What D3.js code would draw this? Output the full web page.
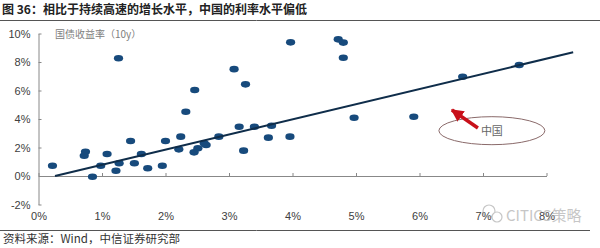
<!DOCTYPE html>
<html>
<head>
<meta charset="utf-8">
<script src="https://cdn.jsdelivr.net/npm/d3@7"></script>
<style>
  body { margin: 0; background: #fff; }
  svg { display: block; font-family: "Liberation Sans", Arial, "Noto Sans CJK SC", sans-serif; }
</style>
</head>
<body>
<svg id="chart" width="600" height="248"></svg>
<script>
// GDP growth (x, %) vs 10y gov bond yield (y, %)
var growth = [0.22, 0.85, 0.72, 0.74, 0.98, 1.08, 1.27, 1.22, 1.45, 1.51, 1.62, 1.72, 1.95, 2.00,
              2.32, 2.24, 2.21, 2.45, 2.51, 2.61, 2.64, 2.84, 3.16, 3.23, 3.40, 3.67, 3.62, 3.96,
              1.26, 2.46, 3.08, 3.26, 3.97, 4.72, 4.80, 4.80, 4.97, 5.91, 6.68, 7.57]
var yields = [0.72, -0.05, 1.42, 1.70, 0.72, 1.54, 0.89, 0.37, 2.46, 0.89, 1.54, 0.54, 0.72, 2.46,
              4.51, 2.76, 1.87, 1.66, 1.94, 2.29, 2.18, 2.76, 3.46, 1.78, 3.46, 3.53, 2.69, 2.76,
              8.26, 6.03, 7.50, 6.43, 9.38, 9.59, 9.36, 8.30, 4.09, 4.16, 6.97, 7.79]
// trend line end points (data space)
var trendX = [0.26, 8.42]
var trendY = [0, 8.68]
// China annotation: arrow tail/tip and ellipse centre
var chinaArrow = [[6.92, 3.37], [6.51, 4.63]]
var chinaLabel = [7.14, 3.18]

var xTicks = [0, 1, 2, 3, 4, 5, 6, 7, 8]
var yTicks = [-2, 0, 2, 4, 6, 8, 10]

var svg = d3.select("#chart")

var x = d3.scaleLinear().domain([0, 8]).range([38.5, 546.5])
var y = d3.scaleLinear().domain([-2, 10]).range([204.5, 33.5])

// title + rules
svg.append("text")
  .attr("x", 2).attr("y", 14)
  .style("font-family", "'Noto Sans CJK SC', sans-serif")
  .style("font-size", "12px").style("font-weight", "bold").style("fill", "#222")
  .text("图 36：相比于持续高速的增长水平，中国的利率水平偏低")
svg.append("line").attr("x1", 0).attr("x2", 600).attr("y1", 20.5).attr("y2", 20.5)
  .style("stroke", "#555").style("stroke-width", 1)
svg.append("line").attr("x1", 0).attr("x2", 590).attr("y1", 230.5).attr("y2", 230.5)
  .style("stroke", "#555").style("stroke-width", 1)

// axes
var xAxis = svg.append("g")
  .attr("transform", "translate(0," + y(0) + ")")
  .call(d3.axisBottom(x).tickValues(xTicks).tickFormat(d => d + "%")
    .tickSizeInner(-3).tickSizeOuter(0).tickPadding(36))
var yAxis = svg.append("g")
  .attr("transform", "translate(" + x(0) + ",0)")
  .call(d3.axisLeft(y).tickValues(yTicks).tickFormat(d => d + "%")
    .tickSizeInner(-3).tickSizeOuter(0).tickPadding(8))

svg.selectAll(".domain, .tick line").style("stroke", "#888")
svg.selectAll(".tick text")
  .style("font-family", "'Liberation Sans', Arial, sans-serif")
  .style("font-size", "11px").style("fill", "#404040")

svg.append("text")
  .attr("x", 55).attr("y", 38)
  .style("font-family", "'Noto Sans CJK SC', sans-serif")
  .style("font-size", "10px").style("fill", "#808080")
  .text("国债收益率（10y）")

// points
svg.append("g").selectAll("ellipse")
  .data(growth.map((g, i) => ({ g: g, v: yields[i] })))
  .enter()
  .append("ellipse")
  .attr("cx", d => x(d.g))
  .attr("cy", d => y(d.v))
  .attr("rx", 4.6)
  .attr("ry", 3.3)
  .style("fill", "#174a7c")

// trend line
svg.append("line")
  .attr("x1", x(trendX[0])).attr("y1", y(trendY[0]))
  .attr("x2", x(trendX[1])).attr("y2", y(trendY[1]))
  .style("stroke", "#0f2d4a").style("stroke-width", 2)

// China annotation
svg.append("ellipse")
  .attr("cx", x(chinaLabel[0])).attr("cy", y(chinaLabel[1]))
  .attr("rx", 53).attr("ry", 14)
  .style("fill", "none").style("stroke", "#8a6a6a").style("stroke-width", 1)
svg.append("text")
  .attr("x", x(chinaLabel[0])).attr("y", y(chinaLabel[1]) + 4)
  .attr("text-anchor", "middle")
  .style("font-family", "'Noto Sans CJK SC', sans-serif")
  .style("font-size", "11px").style("fill", "#666")
  .text("中国")

var defs = svg.append("defs")
defs.append("marker")
  .attr("id", "head").attr("viewBox", "0 0 10 10")
  .attr("refX", 9).attr("refY", 5)
  .attr("markerWidth", 3.6).attr("markerHeight", 3.6)
  .attr("orient", "auto")
  .append("path").attr("d", "M0,0 L10,5 L0,10 z").style("fill", "#c8101a")

svg.append("line")
  .attr("x1", x(chinaArrow[0][0])).attr("y1", y(chinaArrow[0][1]))
  .attr("x2", x(chinaArrow[1][0])).attr("y2", y(chinaArrow[1][1]))
  .style("stroke", "#c8101a").style("stroke-width", 3.5)
  .attr("marker-end", "url(#head)")

// source
svg.append("text")
  .attr("x", 3).attr("y", 243)
  .style("font-family", "'Noto Sans CJK SC', sans-serif")
  .style("font-size", "11.5px").style("fill", "#333")
  .text("资料来源：Wind，中信证券研究部")

// watermark
var wm = svg.append("g").style("opacity", 0.55)
wm.append("circle").attr("cx", 489).attr("cy", 211).attr("r", 6)
  .style("fill", "none").style("stroke", "#999").style("stroke-width", 1.2)
wm.append("circle").attr("cx", 497).attr("cy", 217).attr("r", 5)
  .style("fill", "#fff").style("stroke", "#999").style("stroke-width", 1.2)
wm.append("text").attr("x", 506).attr("y", 221)
  .style("font-family", "'Noto Sans CJK SC', sans-serif")
  .style("font-size", "15px").style("fill", "#999")
  .text("CITICS策略")
</script>
</body>
</html>
